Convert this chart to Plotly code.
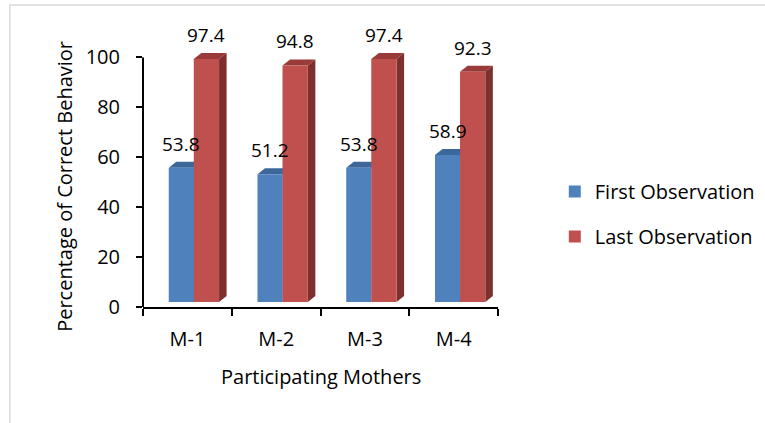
import plotly.graph_objects as go

categories = ["M-1", "M-2", "M-3", "M-4"]
first_obs = [53.8, 51.2, 53.8, 58.9]
last_obs = [97.4, 94.8, 97.4, 92.3]
series_names = ["First Observation", "Last Observation"]
y_ticks = [0, 20, 40, 60, 80, 100]

FONT = "Open Sans"
FS = 20
FS_LBL = 19
BLUE, BLUE_TOP = "#4F81BD", "#3C679B"
RED, RED_TOP, RED_SIDE = "#C0504D", "#993B39", "#7E302E"

BASE = 2.0          # floor lift of the 3-D bars (data units)
DX, DY = 0.085, 2.4  # depth offsets (category units, data units)
W = 0.285
OFF = [-0.21, 0.072]

fig = go.Figure()
series = [first_obs, last_obs]
fronts = [BLUE, RED]
tops = [BLUE_TOP, RED_TOP]
for k, (name, vals) in enumerate(zip(series_names, series)):
    fig.add_trace(go.Bar(
        x=categories, y=vals, base=[BASE] * len(vals), name=name,
        width=W, offset=OFF[k], marker=dict(color=fronts[k], line=dict(width=0)),
        legendgroup=name, hoverinfo="skip"))

shapes = []
annotations = []
for k, vals in enumerate(series):
    for i, v in enumerate(vals):
        L = i + OFF[k]
        R = L + W
        T = BASE + v
        # top face
        shapes.append(dict(type="path", xref="x", yref="y", layer="below",
                           path=f"M {L} {T} L {R} {T} L {R+DX} {T+DY} L {L+DX} {T+DY} Z",
                           fillcolor=tops[k], line=dict(width=0)))
        if k == 1:
            # side face
            shapes.append(dict(type="path", xref="x", yref="y", layer="below",
                               path=f"M {R} {BASE} L {R+DX} {BASE+DY} L {R+DX} {T+DY} L {R} {T} Z",
                               fillcolor=RED_SIDE, line=dict(width=0)))
        annotations.append(dict(x=(L + R) / 2, y=T, xref="x", yref="y", text=f"{v}",
                                showarrow=False, yanchor="middle", yshift=24,
                                font=dict(family=FONT, size=FS_LBL, color="black")))

# y axis line from 0 to the top tick
shapes.append(dict(type="line", xref="x domain", yref="y", x0=0, x1=0,
                   y0=y_ticks[0], y1=y_ticks[-1], line=dict(color="black", width=2)))
# light chart border
shapes.append(dict(type="rect", xref="paper", yref="paper", x0=-0.375, x1=2.0,
                   y0=-1.0, y1=1.175, line=dict(color="#D9D9D9", width=1.5),
                   fillcolor="rgba(0,0,0,0)", layer="below"))

annotations.append(dict(x=-0.22, y=0.471, xref="paper", yref="paper", textangle=-90,
                        xanchor="center", yanchor="middle",
                        text="Percentage of Correct Behavior", showarrow=False,
                        font=dict(family=FONT, size=FS, color="black")))
annotations.append(dict(x=0.5, y=-0.27, xref="paper", yref="paper",
                        xanchor="center", yanchor="middle",
                        text="Participating Mothers", showarrow=False,
                        font=dict(family=FONT, size=FS, color="black")))

fig.update_layout(
    width=765, height=423,
    margin=dict(l=143, r=267, t=50, b=116, autoexpand=False),
    paper_bgcolor="white", plot_bgcolor="white",
    font=dict(family=FONT, size=FS, color="black"),
    shapes=shapes, annotations=annotations,
    showlegend=True,
    legend=dict(x=1.16, xanchor="left", y=0.362, yanchor="middle",
                tracegroupgap=16, font=dict(family=FONT, size=FS, color="black"),
                bgcolor="rgba(0,0,0,0)"),
    xaxis=dict(type="category", range=[-0.5, 3.5], showline=True, linecolor="black",
               linewidth=2, ticks="outside", tickson="boundaries", ticklen=7,
               tickwidth=1.5, tickcolor="black", showgrid=False, zeroline=False,
               ticklabelstandoff=13, fixedrange=True),
    yaxis=dict(range=[0, 103], tickvals=y_ticks, showline=False, ticks="outside",
               ticklen=6, tickwidth=1.5, tickcolor="black", showgrid=False,
               zeroline=False, ticklabelstandoff=12, fixedrange=True),
)

fig.write_html("out.html", config={"displayModeBar": False},
               post_script="document.body.style.margin='0';")
